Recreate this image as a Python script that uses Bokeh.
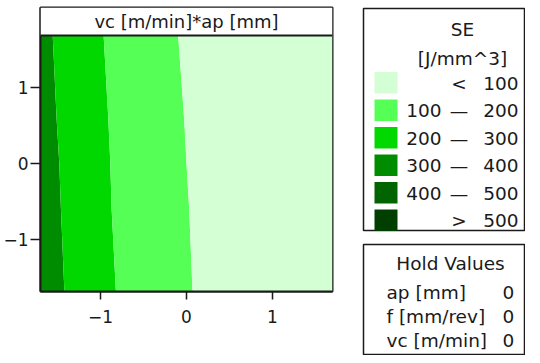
from bokeh.plotting import figure
from bokeh.models import Range1d, FixedTicker, BoxAnnotation, Span, Label
from bokeh.embed import file_html
from bokeh.resources import INLINE
from bokeh.core.properties import value

# ---------------- data ----------------
TITLE = "vc [m/min]*ap [mm]"
Y_PTS = [1.69, 0.58, 0.0, -0.60, -1.69]
B100 = [-0.097, -0.027, 0.0, 0.031, 0.070]       # contour SE = 100
B200 = [-0.965, -0.910, -0.887, -0.872, -0.822]  # contour SE = 200
B300 = [-1.558, -1.512, -1.481, -1.462, -1.422]  # contour SE = 300
X_TICKS = [-1, 0, 1]
Y_TICKS = [-1, 0, 1]
X_LIM = [-1.7, 1.7]
Y_LIM = [-1.69, 1.69]

LEGEND_TITLE = ["SE", "[J/mm^3]"]
LEVEL_LOW = ["", "100", "200", "300", "400", ""]
LEVEL_SEP = ["<", "\u2014", "\u2014", "\u2014", "\u2014", ">"]
LEVEL_HIGH = ["100", "200", "300", "400", "500", "500"]
LEVEL_COLORS = ["#D4FFD4", "#55FF55", "#00D800", "#008C00", "#006400", "#003F00"]
HOLD_TITLE = "Hold Values"
HOLD_NAMES = ["ap [mm]", "f [mm/rev]", "vc [m/min]"]
HOLD_VALUES = ["0", "0", "0"]

FONT = "DejaVu Sans"
INK = "#1a1a1a"

# ---------------- geometry (pixels) ----------------
FRAME_W = 292
PLOT_H = 256
HEADER_H = 28
B_LEFT, B_TOP, B_RIGHT, B_BOTTOM = 31, 7, 193, 64
PAGE_X0, PAGE_Y0 = 8, 0          # where the canvas lands on the page
FL = PAGE_X0 + B_LEFT            # frame left (page px)
FT = PAGE_Y0 + B_TOP             # frame top (page px)

px_x = FRAME_W / (X_LIM[1] - X_LIM[0])
px_y = PLOT_H / (Y_LIM[1] - Y_LIM[0])
y_top = Y_LIM[1] + HEADER_H / px_y


def dx(page_x):
    return X_LIM[0] + (page_x - FL) / px_x


def dy(page_y):
    return y_top - (page_y - FT) / px_y


p = figure(frame_width=FRAME_W, frame_height=PLOT_H + HEADER_H,
           x_range=Range1d(*X_LIM), y_range=Range1d(Y_LIM[0], y_top),
           output_backend="svg", toolbar_location=None, tools="",
           min_border_left=B_LEFT, min_border_right=B_RIGHT,
           min_border_top=B_TOP, min_border_bottom=B_BOTTOM,
           background_fill_color="white", border_fill_color="white")
p.grid.visible = False

# contour bands
n = len(Y_PTS)
left_edge = [X_LIM[0]] * n
right_edge = [X_LIM[1]] * n
edges = [left_edge, B300, B200, B100, right_edge]
band_colors = [LEVEL_COLORS[3], LEVEL_COLORS[2], LEVEL_COLORS[1], LEVEL_COLORS[0]]
for i, col in enumerate(band_colors):
    p.harea(y=Y_PTS, x1=edges[i], x2=edges[i + 1], fill_color=col, fill_alpha=1)

# header strip
p.add_layout(BoxAnnotation(bottom=Y_LIM[1], fill_color="white", fill_alpha=1, line_color=None))
p.add_layout(Span(location=Y_LIM[1], dimension="width", line_color=INK, line_width=2))
p.add_layout(Label(x=0, y=(Y_LIM[1] + y_top) / 2, text=TITLE, text_align="center",
                   text_baseline="middle", text_font=FONT, text_font_size="18px",
                   text_color=INK))

# axes
p.xaxis.ticker = FixedTicker(ticks=X_TICKS)
p.yaxis.ticker = FixedTicker(ticks=Y_TICKS)
p.axis.minor_tick_line_color = None
p.axis.major_tick_in = 0
p.xaxis.major_tick_out = 8
p.yaxis.major_tick_out = 10
p.axis.major_tick_line_width = 1.5
p.axis.major_tick_line_color = INK
p.axis.axis_line_color = INK
p.axis.axis_line_width = 2
p.axis.major_label_text_font = FONT
p.axis.major_label_text_font_size = "17px"
p.axis.major_label_text_color = INK
p.xaxis.major_label_standoff = 10
p.yaxis.major_label_standoff = 2
p.outline_line_color = INK
p.outline_line_width = 2
p.outline_line_alpha = 1

# ---------------- legend (drawn in the right border, not clipped) ----------------
tf = value(FONT)
fs = value("18.5px")
LV = "overlay"

p.quad(left=[dx(362), dx(362)], right=[dx(523), dx(523)],
       top=[dy(8), dy(244)], bottom=[dy(230), dy(354)],
       fill_color="white", line_color=INK, line_width=1.5, level=LV)

p.text(x=[dx(461)] * len(LEGEND_TITLE), y=[dy(29), dy(58)], text=LEGEND_TITLE,
       text_font=tf, text_font_size=fs, text_color=INK,
       text_align="center", text_baseline="middle", level=LV)

rows_py = [82.5 + 27.5 * i for i in range(len(LEVEL_COLORS))]
row_y = [dy(v) for v in rows_py]
p.quad(left=[dx(373)] * len(rows_py), right=[dx(396)] * len(rows_py),
       top=[dy(v - 11) for v in rows_py], bottom=[dy(v + 10.5) for v in rows_py],
       fill_color=LEVEL_COLORS, line_color=None, level=LV)
p.text(x=[dx(440)] * len(LEVEL_LOW), y=row_y, text=LEVEL_LOW,
       text_font=tf, text_font_size=fs, text_color=INK,
       text_align="right", text_baseline="middle", level=LV)
p.text(x=[dx(457.5)] * len(LEVEL_SEP), y=row_y, text=LEVEL_SEP,
       text_font=tf, text_font_size=fs, text_color=INK,
       text_align="center", text_baseline="middle", level=LV)
p.text(x=[dx(517)] * len(LEVEL_HIGH), y=row_y, text=LEVEL_HIGH,
       text_font=tf, text_font_size=fs, text_color=INK,
       text_align="right", text_baseline="middle", level=LV)

p.text(x=[dx(449)], y=[dy(263)], text=[HOLD_TITLE],
       text_font=tf, text_font_size=fs, text_color=INK,
       text_align="center", text_baseline="middle", level=LV)
hold_y = [dy(292 + 24 * i) for i in range(len(HOLD_NAMES))]
p.text(x=[dx(385)] * len(HOLD_NAMES), y=hold_y, text=HOLD_NAMES,
       text_font=tf, text_font_size=fs, text_color=INK,
       text_align="left", text_baseline="middle", level=LV)
p.text(x=[dx(507)] * len(HOLD_VALUES), y=hold_y, text=HOLD_VALUES,
       text_font=tf, text_font_size=fs, text_color=INK,
       text_align="center", text_baseline="middle", level=LV)

open("out.html", "w").write(file_html(p, INLINE))
